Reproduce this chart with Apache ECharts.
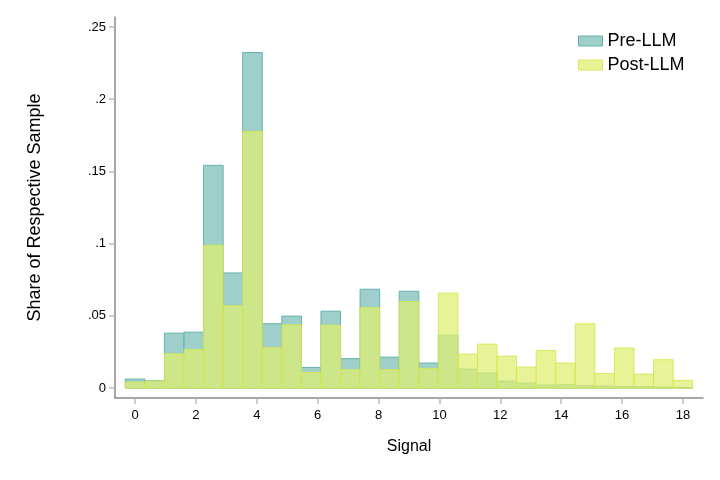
<!DOCTYPE html>
<html>
<head>
<meta charset="utf-8">
<script src="https://cdn.jsdelivr.net/npm/echarts@6/dist/echarts.min.js"></script>
<style>
  html, body { margin: 0; padding: 0; background: #fff; }
  #chart { width: 720px; height: 480px; }
</style>
</head>
<body>
<div id="chart"></div>
<script>
// 29 bins over the signal range 0..18
const binWidth = 18 / 28
const binCenters = Array.from({ length: 29 }, (_, k) => k * binWidth)

const preLLM = [0.0062, 0.0050, 0.0380, 0.0387, 0.1542, 0.0797, 0.2323, 0.0445, 0.0498, 0.0143,
  0.0532, 0.0203, 0.0684, 0.0214, 0.0670, 0.0173, 0.0366, 0.0131, 0.0104, 0.0048,
  0.0035, 0.0021, 0.0023, 0.0016, 0.0014, 0.0009, 0.0009, 0.0007, 0.0005]
const postLLM = [0.0041, 0.0048, 0.0237, 0.0267, 0.0989, 0.0569, 0.1777, 0.0279, 0.0438, 0.0108,
  0.0435, 0.0127, 0.0557, 0.0127, 0.0599, 0.0136, 0.0657, 0.0235, 0.0304, 0.0221,
  0.0145, 0.0260, 0.0173, 0.0445, 0.0101, 0.0277, 0.0097, 0.0196, 0.0053]

const xTicks = [0, 2, 4, 6, 8, 10, 12, 14, 16, 18]
const yTicks = [0, 0.05, 0.1, 0.15, 0.2, 0.25]

const fontFamily = '"Liberation Sans", Arial, sans-serif'

function histBar(fill, stroke) {
  return function (params, api) {
    const x = api.value(0)
    const y = api.value(1)
    const p0 = api.coord([x - binWidth / 2, y])
    const p1 = api.coord([x + binWidth / 2, 0])
    return {
      type: 'rect',
      shape: { x: p0[0], y: p0[1], width: p1[0] - p0[0], height: p1[1] - p0[1] },
      style: { fill: fill, stroke: stroke, lineWidth: 1 },
    }
  }
}

const preFill = '#9fcfcb'
const preStroke = '#63b3ad'
const postFill = 'rgba(223, 238, 111, 0.72)'
const postStroke = 'rgba(214, 230, 72, 0.85)'

const chart = echarts.init(document.getElementById('chart'))
chart.setOption({
  animation: false,
  textStyle: { fontFamily: fontFamily },
  grid: { left: 115, right: 17, top: 17, bottom: 82 },
  legend: {
    orient: 'vertical',
    left: 573,
    top: 27,
    icon: 'rect',
    itemWidth: 24,
    itemHeight: 10,
    itemGap: 6,
    textStyle: { fontSize: 18, color: '#000', fontFamily: fontFamily },
    data: [
      { name: 'Pre-LLM', itemStyle: { color: preFill, borderColor: preStroke, borderWidth: 1 } },
      { name: 'Post-LLM', itemStyle: { color: postFill, borderColor: postStroke, borderWidth: 1 } },
    ],
  },
  xAxis: {
    type: 'value',
    min: -0.66,
    max: 18.66,
    name: 'Signal',
    nameLocation: 'middle',
    nameGap: 41,
    nameTextStyle: { fontSize: 16, color: '#000' },
    axisLine: { show: true, onZero: false, lineStyle: { color: '#8a8a8a', width: 1.5 } },
    axisTick: { show: true, length: 6, customValues: xTicks, lineStyle: { color: '#bbb', width: 1.5 } },
    axisLabel: { customValues: xTicks, fontSize: 13, color: '#000', margin: 11 },
    splitLine: { show: false },
  },
  yAxis: {
    type: 'value',
    min: -0.0069,
    max: 0.2569,
    name: 'Share of Respective Sample',
    nameLocation: 'middle',
    nameGap: 71,
    nameTextStyle: { fontSize: 18, color: '#000' },
    axisLine: { show: true, onZero: false, lineStyle: { color: '#8a8a8a', width: 1.5 } },
    axisTick: { show: true, length: 6, customValues: yTicks, lineStyle: { color: '#bbb', width: 1.5 } },
    axisLabel: {
      customValues: yTicks,
      fontSize: 13,
      color: '#000',
      margin: 9,
      formatter: v => (v === 0 ? '0' : String(v).replace(/^0\./, '.')),
    },
    splitLine: { show: false },
  },
  series: [
    {
      name: 'Pre-LLM',
      type: 'custom',
      renderItem: histBar(preFill, preStroke),
      itemStyle: { color: preFill, borderColor: preStroke },
      encode: { x: 0, y: 1 },
      data: binCenters.map((c, i) => [c, preLLM[i]]),
    },
    {
      name: 'Post-LLM',
      type: 'custom',
      renderItem: histBar(postFill, postStroke),
      itemStyle: { color: postFill, borderColor: postStroke },
      encode: { x: 0, y: 1 },
      data: binCenters.map((c, i) => [c, postLLM[i]]),
    },
  ],
})
</script>
</body>
</html>
